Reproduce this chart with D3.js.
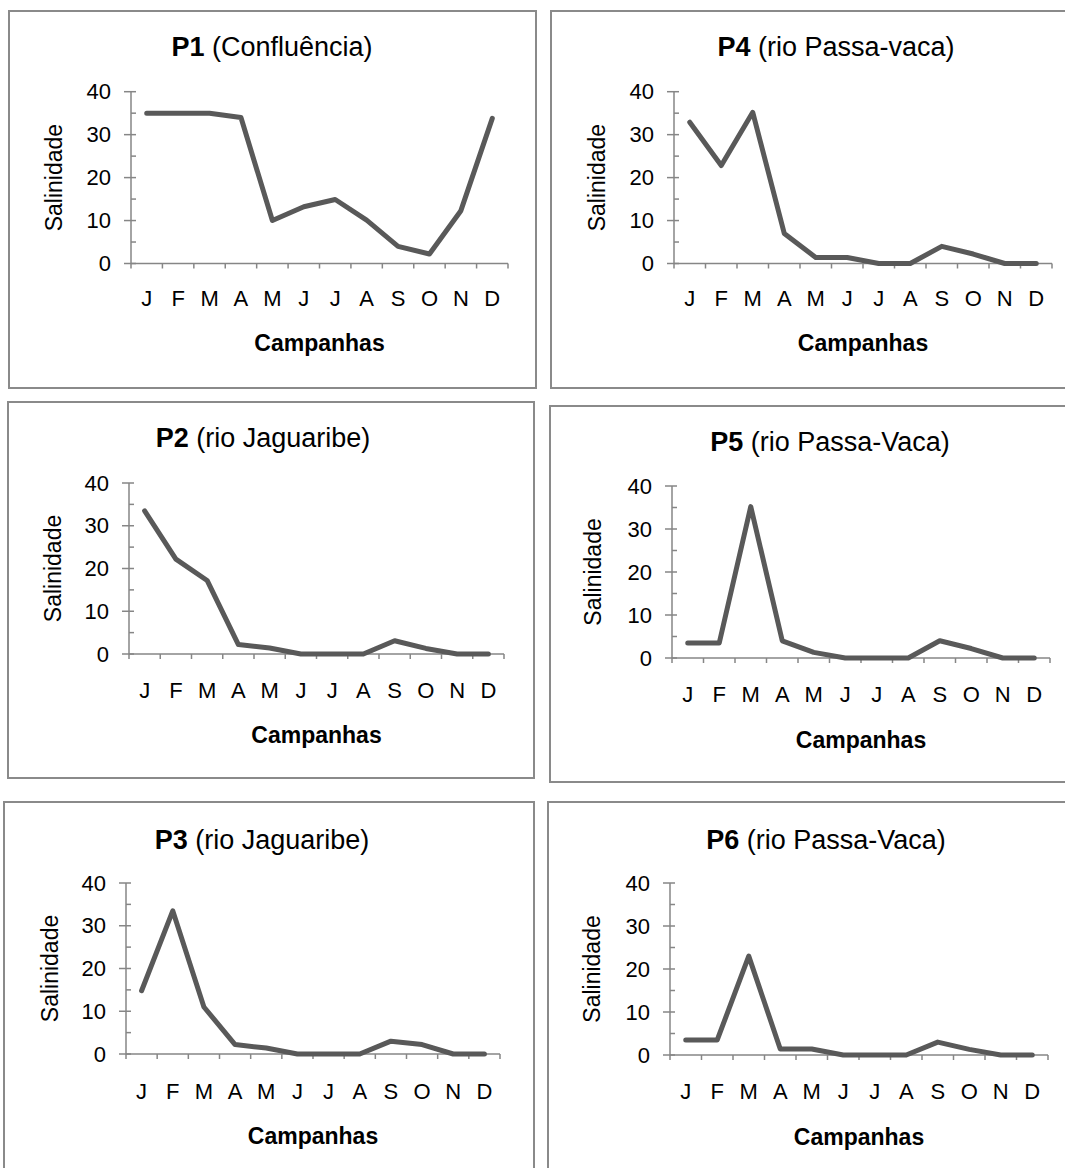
<!DOCTYPE html>
<html>
<head>
<meta charset="utf-8">
<script src="https://cdn.jsdelivr.net/npm/d3@7"></script>
<style>
  html, body { margin: 0; padding: 0; background: #fff; }
  svg { display: block; font-family: "Liberation Sans", Arial, sans-serif; }
</style>
</head>
<body>
<svg id="chart" width="1065" height="1168"></svg>
<script>
// Monthly sampling campaigns
const months = ["J", "F", "M", "A", "M", "J", "J", "A", "S", "O", "N", "D"];
const yTicks = [0, 10, 20, 30, 40];

// Salinity per station, one value per campaign
const p1 = [35, 35, 35, 34, 10, 13.2, 14.9, 10.1, 4, 2.2, 12.3, 33.8];
const p2 = [33.5, 22.2, 17.2, 2.2, 1.4, 0, 0, 0, 3.1, 1.3, 0, 0];
const p3 = [14.8, 33.5, 11, 2.2, 1.4, 0, 0, 0, 3, 2.2, 0, 0];
const p4 = [32.9, 22.8, 35.2, 7, 1.4, 1.4, 0, 0, 4, 2.2, 0, 0];
const p5 = [3.5, 3.5, 35.2, 4, 1.3, 0, 0, 0, 4, 2.2, 0, 0];
const p6 = [3.5, 3.5, 23, 1.4, 1.4, 0, 0, 0, 3, 1.3, 0, 0];

// Station codes and place names used in the titles
const codes = ["P1", "P4", "P2", "P5", "P3", "P6"];
const places = [" (Confluência)", " (rio Passa-vaca)", " (rio Jaguaribe)", " (rio Passa-Vaca)", " (rio Jaguaribe)", " (rio Passa-Vaca)"];
const seriesList = [p1, p4, p2, p5, p3, p6];

// Frame and plot-area geometry of each panel
const layout = [
  { box: [9, 11, 536, 388],    px: [131, 508],  py: [263.5, 91.7], titleY: 47,  titleX: 272, monthY: 298,  campY: 343,  salX: 54 },
  { box: [551, 11, 1075, 388], px: [674, 1052], py: [263.5, 91.7], titleY: 47,  titleX: 836, monthY: 298,  campY: 343,  salX: 597 },
  { box: [8, 402, 534, 778],   px: [129, 504],  py: [654, 483],    titleY: 438, titleX: 263, monthY: 690,  campY: 735,  salX: 53 },
  { box: [550, 406, 1075, 782],px: [672, 1050], py: [658, 486],    titleY: 442, titleX: 830, monthY: 694,  campY: 740,  salX: 593 },
  { box: [4, 802, 534, 1180],  px: [126, 500],  py: [1054, 883],   titleY: 840, titleX: 262, monthY: 1091, campY: 1136, salX: 50 },
  { box: [548, 802, 1075, 1180],px: [670, 1048],py: [1055, 883],   titleY: 840, titleX: 826, monthY: 1091, campY: 1137, salX: 592 }
];

const svg = d3.select("#chart");
const axisColor = "#868686";
const lineColor = "#595959";

seriesList.forEach((values, i) => {
  const L = layout[i];
  const g = svg.append("g");

  // panel frame
  g.append("rect")
    .attr("x", L.box[0]).attr("y", L.box[1])
    .attr("width", L.box[2] - L.box[0]).attr("height", L.box[3] - L.box[1])
    .attr("fill", "none").attr("stroke", "#8a8a8a").attr("stroke-width", 2);

  const x = d3.scaleBand().domain(d3.range(months.length)).range(L.px).padding(0);
  const y = d3.scaleLinear().domain([0, 40]).range(L.py);

  // y axis: major ticks crossing the axis, minor ticks inside
  const yAxis = g.append("g").attr("transform", `translate(${L.px[0]},0)`);
  yAxis.append("line")
    .attr("x1", 0).attr("x2", 0).attr("y1", y(0)).attr("y2", y(40))
    .attr("stroke", axisColor).attr("stroke-width", 1.5);
  yAxis.selectAll("line.major").data(yTicks).join("line")
    .attr("class", "major")
    .attr("x1", -7).attr("x2", 5)
    .attr("y1", d => y(d)).attr("y2", d => y(d))
    .attr("stroke", axisColor).attr("stroke-width", 1.5);
  yAxis.selectAll("line.minor").data([5, 15, 25, 35]).join("line")
    .attr("class", "minor")
    .attr("x1", 0).attr("x2", 5)
    .attr("y1", d => y(d)).attr("y2", d => y(d))
    .attr("stroke", axisColor).attr("stroke-width", 1.5);
  yAxis.selectAll("text").data(yTicks).join("text")
    .attr("x", -20).attr("y", d => y(d))
    .attr("text-anchor", "end").attr("dominant-baseline", "central")
    .attr("font-size", 22).attr("fill", "#000")
    .text(d => d);

  // x axis with ticks at category boundaries
  const xAxis = g.append("g").attr("transform", `translate(0,${y(0)})`);
  xAxis.append("line")
    .attr("x1", L.px[0]).attr("x2", L.px[1]).attr("y1", 0).attr("y2", 0)
    .attr("stroke", axisColor).attr("stroke-width", 1.5);
  const bounds = d3.range(months.length + 1).map(k => L.px[0] + k * x.step());
  xAxis.selectAll("line.tick").data(bounds).join("line")
    .attr("class", "tick")
    .attr("x1", d => d).attr("x2", d => d).attr("y1", 0).attr("y2", 5)
    .attr("stroke", axisColor).attr("stroke-width", 1.5);
  g.selectAll("text.month").data(months).join("text")
    .attr("class", "month")
    .attr("x", (d, k) => x(k) + x.bandwidth() / 2)
    .attr("y", L.monthY)
    .attr("text-anchor", "middle").attr("dominant-baseline", "central")
    .attr("font-size", 22).attr("fill", "#000")
    .text(d => d);

  // salinity line
  const line = d3.line()
    .x((d, k) => x(k) + x.bandwidth() / 2)
    .y(d => y(d));
  g.append("path")
    .datum(values)
    .attr("d", line)
    .attr("fill", "none")
    .attr("stroke", lineColor)
    .attr("stroke-width", 5)
    .attr("stroke-linejoin", "round")
    .attr("stroke-linecap", "round");

  // title
  const t = g.append("text")
    .attr("x", L.titleX).attr("y", L.titleY)
    .attr("text-anchor", "middle").attr("dominant-baseline", "central")
    .attr("font-size", 27).attr("fill", "#000");
  t.append("tspan").attr("font-weight", "bold").text(codes[i]);
  t.append("tspan").text(places[i]);

  // axis titles
  g.append("text")
    .attr("x", (L.px[0] + L.px[1]) / 2).attr("y", L.campY)
    .attr("text-anchor", "middle").attr("dominant-baseline", "central")
    .attr("font-size", 23).attr("font-weight", "bold").attr("fill", "#000")
    .text("Campanhas");
  g.append("text")
    .attr("transform", `translate(${L.salX},${(y(0) + y(40)) / 2}) rotate(-90)`)
    .attr("text-anchor", "middle").attr("dominant-baseline", "central")
    .attr("font-size", 23).attr("fill", "#000")
    .text("Salinidade");
});
</script>
</body>
</html>
